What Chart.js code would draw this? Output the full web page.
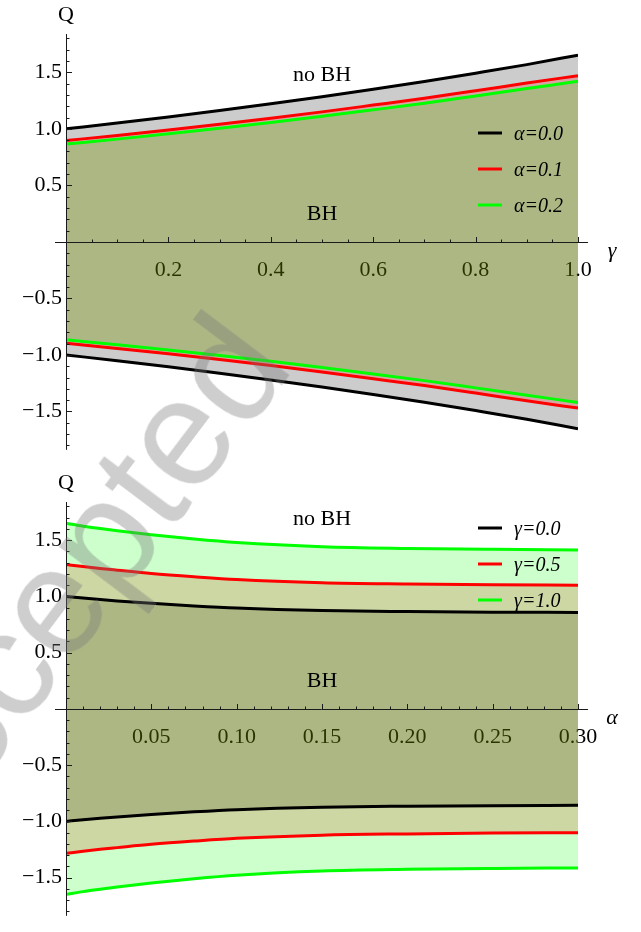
<!DOCTYPE html>
<html>
<head>
<meta charset="utf-8">
<script src="https://cdn.jsdelivr.net/npm/chart.js@4.4.1/dist/chart.umd.min.js"></script>
<style>
  html, body { margin: 0; padding: 0; background: #ffffff; }
  #wrap { position: relative; width: 641px; height: 932px; overflow: hidden; }
  .panel { position: absolute; left: 0; width: 641px; height: 466px; }
  #panelTop { top: 0; }
  #panelBottom { top: 466px; }
  #stamp {
    position: absolute; left: 62px; top: 588px;
    font-family: "Liberation Sans", Arial, sans-serif; font-size: 152px; line-height: 1;
    color: rgba(119, 119, 119, 0.36); white-space: nowrap; pointer-events: none;
    transform: translate(-50%, -50%) rotate(-53deg);
  }
</style>
</head>
<body>
<div id="wrap">
  <canvas id="panelTop" class="panel" width="641" height="466"></canvas>
  <canvas id="panelBottom" class="panel" width="641" height="466"></canvas>
  <div id="stamp">Accepted</div>
</div>
<script>
// ---- upper panel: Q versus gamma for three alpha values ----
const gammaValues = [0, 0.1, 0.2, 0.3, 0.4, 0.5, 0.6, 0.7, 0.8, 0.9, 1.0];
const qAlpha00 = [1.000, 1.051, 1.105, 1.162, 1.221, 1.284, 1.350, 1.419, 1.492, 1.568, 1.652];
const qAlpha01 = [0.896, 0.942, 0.990, 1.041, 1.094, 1.150, 1.210, 1.271, 1.337, 1.405, 1.470];
const qAlpha02 = [0.866, 0.909, 0.956, 1.005, 1.056, 1.111, 1.168, 1.227, 1.291, 1.356, 1.421];

// ---- lower panel: Q versus alpha for three gamma values ----
const alphaValues = [0, 0.01, 0.02, 0.03, 0.05, 0.075, 0.1, 0.15, 0.2, 0.25, 0.3];
const qGamma00 = [1.000, 0.985, 0.972, 0.960, 0.938, 0.915, 0.896, 0.874, 0.865, 0.860, 0.857];
const qGamma05 = [1.284, 1.265, 1.248, 1.233, 1.204, 1.175, 1.150, 1.122, 1.111, 1.104, 1.100];
const qGamma10 = [1.650, 1.624, 1.603, 1.583, 1.547, 1.509, 1.478, 1.441, 1.426, 1.418, 1.413];

// ---- tick labels ----
const gammaTicks = [0.2, 0.4, 0.6, 0.8, 1.0];
const gammaTickLabels = ['0.2', '0.4', '0.6', '0.8', '1.0'];
const alphaTicks = [0.05, 0.10, 0.15, 0.20, 0.25, 0.30];
const alphaTickLabels = ['0.05', '0.10', '0.15', '0.20', '0.25', '0.30'];
const qTicks = [-1.5, -1.0, -0.5, 0.5, 1.0, 1.5];
const qTickLabels = ['\u22121.5', '\u22121.0', '\u22120.5', '0.5', '1.0', '1.5'];

// ---- legends ----
const alphaLegend = ['\u03b1=0.0', '\u03b1=0.1', '\u03b1=0.2'];
const gammaLegend = ['\u03b3=0.0', '\u03b3=0.5', '\u03b3=1.0'];

const curveColors = ['#000000', '#ff0000', '#00ff00'];
const fillColors = ['rgba(0,0,0,0.2)', 'rgba(255,0,0,0.2)', 'rgba(0,255,0,0.2)'];

const SERIF = '"Liberation Serif", "Times New Roman", serif';

// Each curve has an upper branch +Q and a mirrored lower branch -Q,
// both shaded towards the horizontal axis.
function buildDatasets(xs, seriesList) {
  const sets = [];
  seriesList.forEach((ys, i) => {
    [1, -1].forEach(sign => {
      sets.push({
        data: xs.map((x, k) => ({ x: x, y: sign * ys[k] })),
        borderColor: curveColors[i],
        backgroundColor: fillColors[i],
        borderWidth: 3,
        pointRadius: 0,
        fill: 'origin',
        cubicInterpolationMode: 'monotone',
        order: seriesList.length - i
      });
    });
  });
  return sets;
}

function pickLabel(labels) {
  return (value, index) => labels[index];
}

// Crossing axes with major and minor tick marks,
// axis names, region captions and an inset legend.
const axesDecor = {
  id: 'axesDecor',
  afterDatasetsDraw(chart, args, o) {
    const { ctx, chartArea: a, scales: { x, y } } = chart;
    const y0 = Math.round(y.getPixelForValue(0)) + 0.5;
    const x0 = Math.round(x.getPixelForValue(o.xMin)) + 0.5;
    ctx.save();
    ctx.strokeStyle = '#1a1a1a';
    ctx.lineWidth = 1;
    ctx.beginPath();
    ctx.moveTo(a.left - 11, y0); ctx.lineTo(a.right + 10, y0);
    ctx.moveTo(x0, a.top - 1); ctx.lineTo(x0, a.bottom + 1);
    // x ticks (pointing up)
    const nx = Math.round((o.xMax - o.xMin) / o.xMinorStep);
    for (let k = 1; k <= nx; k++) {
      const v = o.xMin + k * o.xMinorStep;
      const px = Math.round(x.getPixelForValue(v)) + 0.5;
      const major = k % o.xMajorEvery === 0;
      ctx.moveTo(px, y0); ctx.lineTo(px, y0 - (major ? 5.5 : 3));
    }
    // y ticks (pointing right)
    for (let k = -18; k <= 18; k++) {
      if (k === 0) continue;
      const py = Math.round(y.getPixelForValue(k / 10)) + 0.5;
      const major = k % 5 === 0;
      ctx.moveTo(x0, py); ctx.lineTo(x0 + (major ? 5.5 : 3), py);
    }
    ctx.stroke();
    ctx.restore();
  },
  afterDraw(chart, args, o) {
    const { ctx, chartArea: a, scales: { x, y } } = chart;
    ctx.save();
    ctx.fillStyle = '#000';
    ctx.textAlign = 'center';
    ctx.textBaseline = 'middle';
    ctx.font = '22px ' + SERIF;
    ctx.fillText('Q', x.getPixelForValue(o.xMin), a.top - 20);
    ctx.font = 'italic 22px ' + SERIF;
    ctx.fillText(o.xName, a.right + 34, y.getPixelForValue(0) + 9);
    ctx.font = '22px ' + SERIF;
    o.captions.forEach(c => ctx.fillText(c.text, x.getPixelForValue(c.x), y.getPixelForValue(c.y)));
    // legend
    ctx.textAlign = 'left';
    o.legend.forEach((txt, i) => {
      const ly = a.top + o.legendTop + i * 36;
      ctx.strokeStyle = curveColors[i];
      ctx.lineWidth = 3;
      ctx.beginPath();
      ctx.moveTo(a.right - 100, ly); ctx.lineTo(a.right - 76, ly);
      ctx.stroke();
      ctx.font = 'italic 20px ' + SERIF;
      ctx.fillText(txt, a.right - 64, ly + 2);
    });
    ctx.restore();
  }
};

function makeOptions(xMax, xTicks, xTickLabels, pad, decor) {
  const tickFont = { family: SERIF, size: 22 };
  return {
    responsive: false,
    animation: false,
    devicePixelRatio: 1,
    layout: { padding: pad },
    plugins: {
      legend: { display: false },
      tooltip: { enabled: false },
      filler: { drawTime: 'beforeDatasetsDraw' },
      axesDecor: decor
    },
    scales: {
      x: {
        type: 'linear', min: 0, max: xMax,
        position: { y: 0 }, z: 1,
        grid: { display: false, drawTicks: false },
        border: { display: false },
        afterBuildTicks: s => { s.ticks = xTicks.map(v => ({ value: v })); },
        ticks: { autoSkip: false, maxRotation: 0, padding: 15, color: '#000', font: tickFont, callback: pickLabel(xTickLabels) }
      },
      y: {
        type: 'linear', min: -1.83, max: 1.83,
        position: 'left', z: 1,
        afterFit: s => { s.width = 66; },
        grid: { display: false, drawTicks: false },
        border: { display: false },
        afterBuildTicks: s => { s.ticks = qTicks.map(v => ({ value: v })); },
        ticks: { autoSkip: false, padding: 4, color: '#000', font: tickFont, callback: pickLabel(qTickLabels) }
      }
    }
  };
}

new Chart(document.getElementById('panelTop'), {
  type: 'line',
  data: { datasets: buildDatasets(gammaValues, [qAlpha00, qAlpha01, qAlpha02]) },
  options: makeOptions(1.0, gammaTicks, gammaTickLabels,
    { left: 0, right: 63, top: 35, bottom: 4 },
    {
      xMin: 0, xMax: 1.0, xMinorStep: 0.05, xMajorEvery: 4, xName: '\u03b3',
      captions: [{ text: 'no BH', x: 0.5, y: 1.475 }, { text: 'BH', x: 0.5, y: 0.245 }],
      legend: alphaLegend, legendTop: 98
    }),
  plugins: [axesDecor]
});

new Chart(document.getElementById('panelBottom'), {
  type: 'line',
  data: { datasets: buildDatasets(alphaValues, [qGamma00, qGamma05, qGamma10]) },
  options: makeOptions(0.3, alphaTicks, alphaTickLabels,
    { left: 0, right: 63, top: 37, bottom: 2 },
    {
      xMin: 0, xMax: 0.3, xMinorStep: 0.01, xMajorEvery: 5, xName: '\u03b1',
      captions: [{ text: 'no BH', x: 0.15, y: 1.686 }, { text: 'BH', x: 0.15, y: 0.245 }],
      legend: gammaLegend, legendTop: 25
    }),
  plugins: [axesDecor]
});
</script>
</body>
</html>
